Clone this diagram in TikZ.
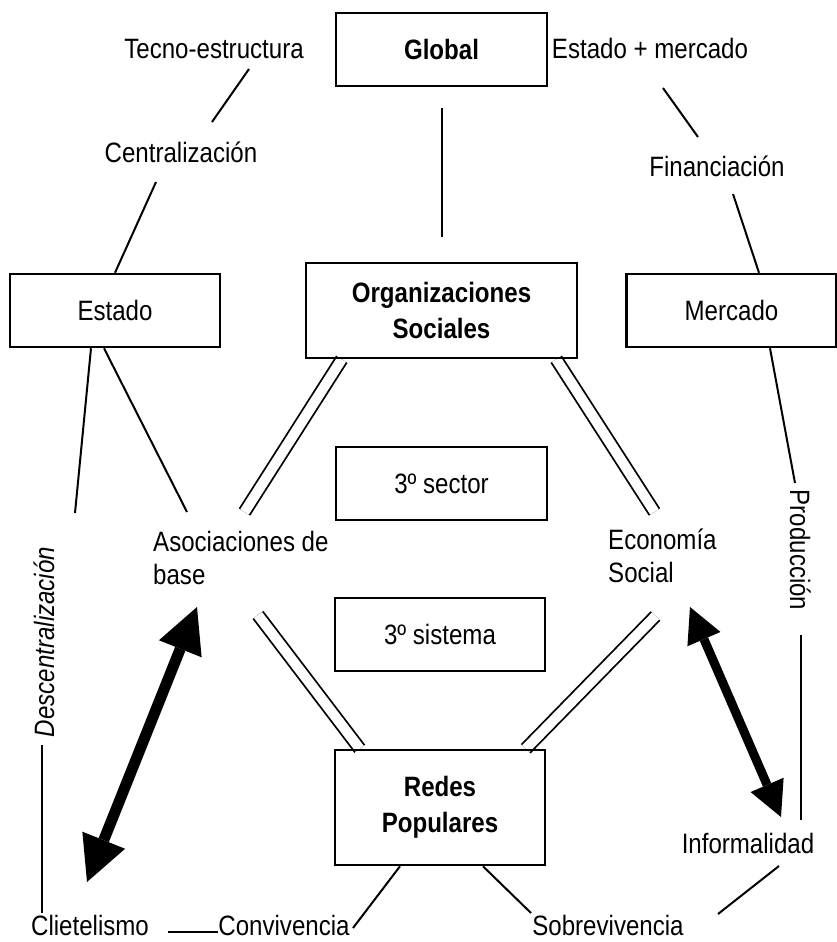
\documentclass[tikz,border=0pt]{standalone}
\usepackage{fontspec}
\setmainfont[FakeStretch=0.86]{Liberation Sans}
\usetikzlibrary{arrows.meta,backgrounds}

\tikzset{
  lbl/.style={inner sep=0pt, anchor=base, font=\fontsize{28}{33}\selectfont},
  mlbl/.style={inner sep=0pt, anchor=north west, align=left, font=\fontsize{28}{33}\selectfont},
  box/.style={draw, line width=2.5pt, minimum width=210pt, minimum height=73pt, align=center, font=\fontsize{28}{33}\selectfont},
  hbox/.style={box, font=\fontsize{28}{36}\selectfont\bfseries},
  ln/.style={line width=2pt},
  dbl/.style={double, double distance=10pt, line width=1.8pt},
  bigarr/.style={line width=11pt, {Triangle[length=45pt,width=46pt,line width=0pt]}-{Triangle[length=45pt,width=46pt,line width=0pt]}},
  midarr/.style={line width=9pt, {Triangle[length=35pt,width=36pt,line width=0pt]}-{Triangle[length=35pt,width=36pt,line width=0pt]}}
}

\begin{document}
\begin{tikzpicture}[x=1pt, y=-1pt]
\useasboundingbox (0,0) rectangle (837,942);

\node[hbox, minimum width=211pt] (global) at (441.5,49.5) {Global};
\node[box] (estado) at (115,310.5) {Estado};
\node[hbox, minimum width=271pt, minimum height=95pt] (orgs) at (441.5,310.5) {Organizaciones\\Sociales};
\node[box] (mercado) at (731.5,310.5) {Mercado};
\node[box, minimum width=211pt] (sector) at (441.5,483.5) {3º sector};
\node[box] (sistema) at (440,634.5) {3º sistema};
\node[hbox, minimum height=115pt] (redes) at (440,807.5) {Redes\\Populares};

\node[lbl] (tecno) at (214,59) {Tecno-estructura};
\node[lbl] (estmer) at (650,59) {Estado + mercado};
\node[lbl] (central) at (181,162) {Centralización};
\node[lbl] (financ) at (717,176) {Financiación};
\node[lbl, rotate=90, font=\fontsize{28}{33}\selectfont\itshape] (descen) at (54,642) {Descentralización};
\node[lbl, rotate=-90] (produc) at (790,550) {Producción};
\node[mlbl] (asoc) at (153,531.5) {Asociaciones de\\base};
\node[mlbl] (econ) at (608,529) {Economía\\Social};
\node[lbl] (inform) at (748,853) {Informalidad};
\node[lbl] (cliet) at (90,935) {Clietelismo};
\node[lbl] (conviv) at (284,935) {Convivencia};
\node[lbl] (sobrev) at (608,935) {Sobrevivencia};

\draw[ln] ([shift={(35,10)}]tecno.base) -- ([shift={(31,-40)}]central.base);
\draw[ln] ([shift={(-25,20)}]central.base) -- (estado.north);
\draw[ln, shorten <=21pt, shorten >=25pt] (global) -- (orgs);
\draw[ln] ([shift={(13,29)}]estmer.base) -- ([shift={(-19,-39)}]financ.base);
\draw[ln] ([shift={(16,18)}]financ.base) -- ([shift={(27.5,0)}]mercado.north);
\draw[ln] ([shift={(-24,0)}]estado.south) -- ([shift={(21,-129)}]descen.base);
\draw[ln] ([shift={(-11,0)}]estado.south) -- ([shift={(34,-19.5)}]asoc.north west);
\draw[ln] ([shift={(38.5,0)}]mercado.south) -- ([shift={(5,-67)}]produc.base);
\draw[ln] ([shift={(11,85)}]produc.base) -- ([shift={(53,-33)}]inform.base);
\draw[ln] ([shift={(-12,103)}]descen.base) -- ([shift={(-48,-22)}]cliet.base);
\draw[ln] ([shift={(78,-3)}]cliet.base) -- ([shift={(-66,-3)}]conviv.base);
\draw[ln] ([shift={(69,-7)}]conviv.base) -- ([shift={(-40,0)}]redes.south);
\draw[ln] ([shift={(43,0)}]redes.south) -- ([shift={(-77,-22)}]sobrev.base);
\draw[ln] ([shift={(110,-21)}]sobrev.base) -- ([shift={(31,13)}]inform.base);

\begin{scope}[on background layer]
\draw[dbl] ([shift={(37,0)}]orgs.south west) -- ([shift={(91.5,-19.5)}]asoc.north west);
\draw[dbl] ([shift={(-22,0)}]orgs.south east) -- ([shift={(46.5,-17)}]econ.north west);
\draw[dbl] ([shift={(105,83.5)}]asoc.north west) -- ([shift={(26,0)}]redes.north west);
\draw[dbl] ([shift={(47.5,87)}]econ.north west) -- ([shift={(-20.5,0)}]redes.north east);
\end{scope}

\draw[bigarr] ([shift={(44,75.5)}]asoc.north west) -- ([shift={(-3,-53)}]cliet.base);
\draw[midarr] ([shift={(82,78)}]econ.north west) -- ([shift={(33,-36)}]inform.base);
\end{tikzpicture}
\end{document}
